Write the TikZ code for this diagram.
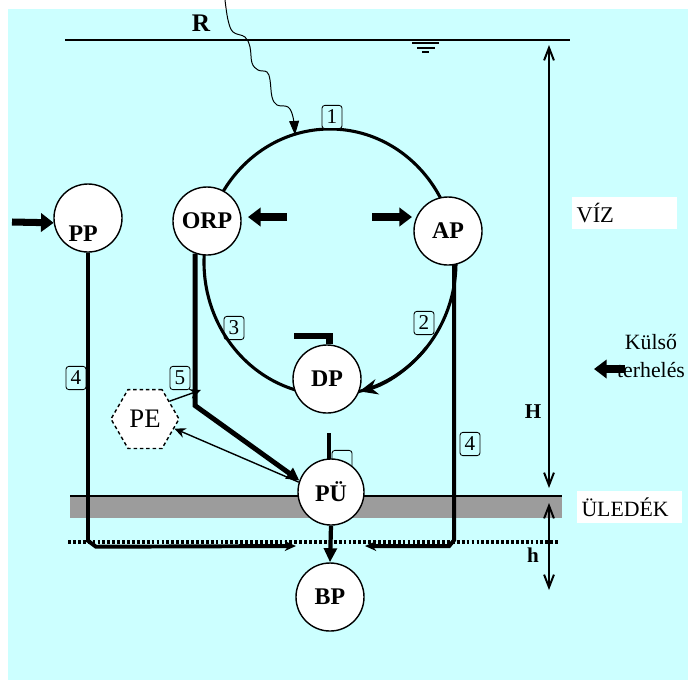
\documentclass[tikz,border=0pt]{standalone}
\usepackage{fontspec}
\setmainfont{Liberation Serif}
\usetikzlibrary{arrows.meta, positioning, calc, shapes.geometric}
\definecolor{vizkek}{HTML}{CCFFFF}
\definecolor{iszap}{HTML}{9C9C9C}

\begin{document}
\begin{tikzpicture}[
  x=0.025cm, y=-0.025cm,
  >={Stealth[length=8pt, width=7pt]},
  tarolo/.style={circle, draw, fill=white, line width=1pt, minimum size=1.7cm,
                 inner sep=0pt, font=\fontsize{17}{18}\selectfont\bfseries},
  szam/.style={draw, rounded corners=2pt, line width=0.6pt, inner sep=0pt,
               minimum width=0.5cm, minimum height=0.58cm, font=\fontsize{15}{16}\selectfont},
  nyil/.style={line width=5pt, -{Triangle[length=9pt, width=13pt]}},
  meret/.style={line width=1.4pt, {Straight Barb[length=9pt, width=7pt]}-{Straight Barb[length=9pt, width=7pt]}},
  doboz/.style={fill=white, anchor=west, align=left, inner xsep=3pt, text width=2.4cm,
                minimum height=0.8cm, font=\fontsize{16}{18}\selectfont},
]
\useasboundingbox (0,0) rectangle (688,680);

% Background
\fill[vizkek] (8,9) rectangle (688,680);

% Sediment and water surface
\fill[iszap] (70,496) rectangle (562,518);
\draw[line width=2pt] (70,496) -- (562,496);
\draw[line width=2.2pt, dash pattern=on 2pt off 1.5pt] (68,542) -- (558,542);
\draw[line width=1pt] (65,40) -- (570,40);
\draw[line width=0.8pt] (412,43) -- (439,43) (417,48) -- (435,48) (422,52) -- (429,52);

% Radiation
\node[font=\fontsize{18}{20}\selectfont\bfseries] (r) at (201,23) {R};
\coordinate (rbe) at (295,135);
\draw[line width=0.7pt, -{Triangle[length=10pt, width=7pt]}] plot[smooth, tension=0.6] coordinates
  {(225,0) (228,20) (233,32) (245,37) (250,47) (252,63) (258,70) (267,72)
   (270,80) (272,97) (277,105) (288,107) (293,117) (rbe)};

% ============ Cycle ============
\draw[line width=2.2pt] (330,262) ellipse [x radius=126, y radius=133];
\draw[line width=2.2pt, -{Stealth[length=13pt, width=11pt]}] (426.5,347.5)
  arc[start angle=40, end angle=76.5, x radius=126, y radius=133];

\node[szam, fill=vizkek] (n1) at (332,117) {1};
\node[szam] (n2) at (424,323) {2};
\node[szam] (n3) at (234,328) {3};

% Stub and hidden box over the sediment pool
\draw[line width=2.5pt] (329,433) -- (329,459);
\node[szam] (n6) at (342,462) {};

% Pools
\node[tarolo, label={[font=\fontsize{17}{18}\selectfont\bfseries, xshift=-0.12cm, yshift=-0.38cm]center:PP}] (pp) at (88,218) {};
\node[tarolo] (orp) at (207,221) {ORP};
\node[tarolo] (ap) at (448,231) {AP};
\node[tarolo] (dp) at (327,379) {DP};
\node[tarolo, minimum size=1.65cm] (pu) at (331,492) {PÜ};
\node[tarolo] (bp) at (330,597) {BP};
\node[draw, dashed, dash pattern=on 2.5pt off 2pt, regular polygon, regular polygon sides=6,
      minimum size=1.7cm, fill=white, line width=1pt, inner sep=0pt,
      font=\fontsize{19}{20}\selectfont] (pe) at (145,419) {PE};

% DP hook
\draw[line width=4.5pt] ([xshift=0.06cm]dp.north) -- ++(0,-8) -- ++(-35,0);

% Flows to the sediment
\coordinate (ppveg) at (296,546);
\coordinate (apveg) at (365,546);
\coordinate (orpbe) at (201,390);
\draw[line width=2.8pt, ->] (pp.south) -- ++(0,288) -- ++(8,6) -- (ppveg);
\draw[line width=2.8pt, ->] (ap.-80) -- ++(0,275) -- ++(-5,6) -- (apveg);
\draw[line width=3.5pt, -{Triangle[length=9pt, width=9pt]}] (orp.250) -- ++(0,152) -- (pu.160);
\draw[line width=3pt, -{Triangle[length=10pt, width=9pt]}] (pu.south) -- (bp.north);
\draw[line width=1pt, ->] (pu.163) -- (pe.-18);
\draw[line width=1pt, ->] (pe.36) -- (orpbe);

\node[szam] (n4a) at (76,378) {4};
\node[szam] (n5) at (180,378) {5};
\node[szam] (n4b) at (470,444) {4};

% Loads
\draw[nyil] (12,222) -- (pp.188);
\draw[nyil] (287,217) -- (248,217);
\draw[nyil] (372,217) -- (412,217);

% ============ Right side ============
\draw[meret] (549,45) -- (549,488);
\draw[meret] (549,503) -- (549,590);
\node[font=\fontsize{15}{16}\selectfont\bfseries] (hn) at (533,412) {H};
\node[font=\fontsize{15}{16}\selectfont\bfseries] (hk) at (533,555) {h};

\node[doboz] (viz) at (572,213) {VÍZ};
\node[doboz, minimum height=0.78cm, font=\fontsize{15.5}{18}\selectfont] (uledek) at (577,507) {ÜLEDÉK};
\node[align=center, font=\fontsize{15.5}{20}\selectfont] (kulso) at (651,356) {Külső\\terhelés};
\draw[nyil] (625,369) -- (594,369);

\end{tikzpicture}
\end{document}
